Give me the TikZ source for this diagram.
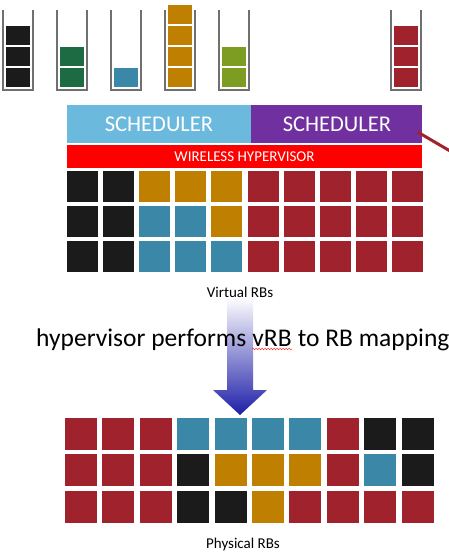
\documentclass[tikz,border=0pt]{standalone}
\usepackage{fontspec}
\setmainfont{Carlito}
\usetikzlibrary{positioning,decorations.pathmorphing}
\definecolor{rbK}{HTML}{1B1B1B}
\definecolor{rbO}{HTML}{BF7F00}
\definecolor{rbB}{HTML}{3B87A8}
\definecolor{rbR}{HTML}{A0222C}
\definecolor{rbG}{HTML}{1C6B42}
\definecolor{rbL}{HTML}{7C9C22}
\definecolor{schedblue}{HTML}{6CB9DE}
\definecolor{schedpurple}{HTML}{7030A0}
\definecolor{hvred}{HTML}{FF0000}
\definecolor{wallgray}{HTML}{707070}
\definecolor{arrowblue}{HTML}{1E1EA8}

\begin{document}
\begin{tikzpicture}[x=1pt,y=-1pt,
    wall/.style={draw=wallgray,line width=2pt},
    qblk/.style={rectangle,draw=white,line width=1pt,minimum width=25pt,minimum height=20pt,inner sep=0pt},
    vrb/.style={rectangle,minimum width=31pt,minimum height=31pt,inner sep=0pt},
    prb/.style={rectangle,minimum width=32pt,minimum height=32pt,inner sep=0pt},
    sched/.style={rectangle,inner sep=0pt,minimum height=38pt,text=white,font=\fontsize{22.5}{26}\selectfont},
    maptxt/.style={inner sep=0pt,anchor=base west,font=\fontsize{25.5}{30}\selectfont}]
\useasboundingbox (0,0) rectangle (449,556);

% Queues
\foreach \qx/\n/\col [count=\q] in {18/3/rbK,72/2/rbG,126/1/rbB,180/4/rbO,234/2/rbL,406/3/rbR}{
  \draw[wall] (\qx-15,10) -- (\qx-15,90) -- (\qx+15,90) -- (\qx+15,10);
  \foreach \j in {1,...,\n}
    \node[qblk,fill=\col] (q\q-\j) at (\qx,{98.5-21*\j}) {};
}

% Schedulers and hypervisor
\node[sched,fill=schedblue,minimum width=184pt] (sched1) at (159,124) {SCHEDULER};
\node[sched,fill=schedpurple,minimum width=171pt,right=0pt of sched1] (sched2) {SCHEDULER};
\node[rectangle,fill=hvred,minimum width=355pt,minimum height=23pt,inner sep=0pt,text=white,
  font=\fontsize{15}{17}\selectfont] (hyper) at (244.5,156.5) {WIRELESS HYPERVISOR};
\coordinate (offpage) at (462,158);
\draw[rbR,line width=3pt] ([xshift=-5pt,yshift=-8pt]sched2.east) -- (offpage);

% Virtual RBs
\foreach \row [count=\r] in {{K,K,O,O,O,R,R,R,R,R},{K,K,B,B,O,R,R,R,R,R},{K,K,B,B,B,R,R,R,R,R}}
  \foreach \c [count=\k] in \row
    \node[vrb,fill=rb\c] (v\r-\k) at ({82.5+36.1*(\k-1)},{186.5+35*(\r-1)}) {};
\coordinate (vlabel) at (240,292);

% Mapping arrow
\coordinate (atop) at (240,297);
\coordinate (atip) at (240,415);
\shade[top color=white,bottom color=arrowblue]
  ([xshift=-13pt]atop) -- ([xshift=13pt]atop) -- ([xshift=13pt,yshift=25pt]atip)
  -- ([xshift=27pt,yshift=25pt]atip) -- (atip) -- ([xshift=-27pt,yshift=25pt]atip)
  -- ([xshift=-13pt,yshift=25pt]atip) -- cycle;
\node[font=\fontsize{15}{17}\selectfont] (vtext) at (vlabel) {Virtual RBs};

\node[maptxt] (mapa) at (36,346) {hypervisor performs};
\node[maptxt] (mapb) at ([xshift=5.8pt]mapa.base east) {vRB};
\node[maptxt] (mapc) at ([xshift=5.8pt]mapb.base east) {to RB mapping};
\draw[red,decorate,decoration={snake,amplitude=0.8pt,segment length=3pt}]
  ([yshift=-3pt]mapb.base west) -- ([yshift=-3pt]mapb.base east);

% Physical RBs
\foreach \row [count=\r] in {{R,R,R,B,B,B,B,R,K,K},{R,R,R,K,O,O,O,R,B,K},{R,R,R,K,K,O,R,R,R,R}}
  \foreach \c [count=\k] in \row
    \node[prb,fill=rb\c] (p\r-\k) at ({81+37.4*(\k-1)},{434+36.3*(\r-1)}) {};
\node[font=\fontsize{15}{17}\selectfont] (plabel) at (243,544) {Physical RBs};

\end{tikzpicture}
\end{document}
